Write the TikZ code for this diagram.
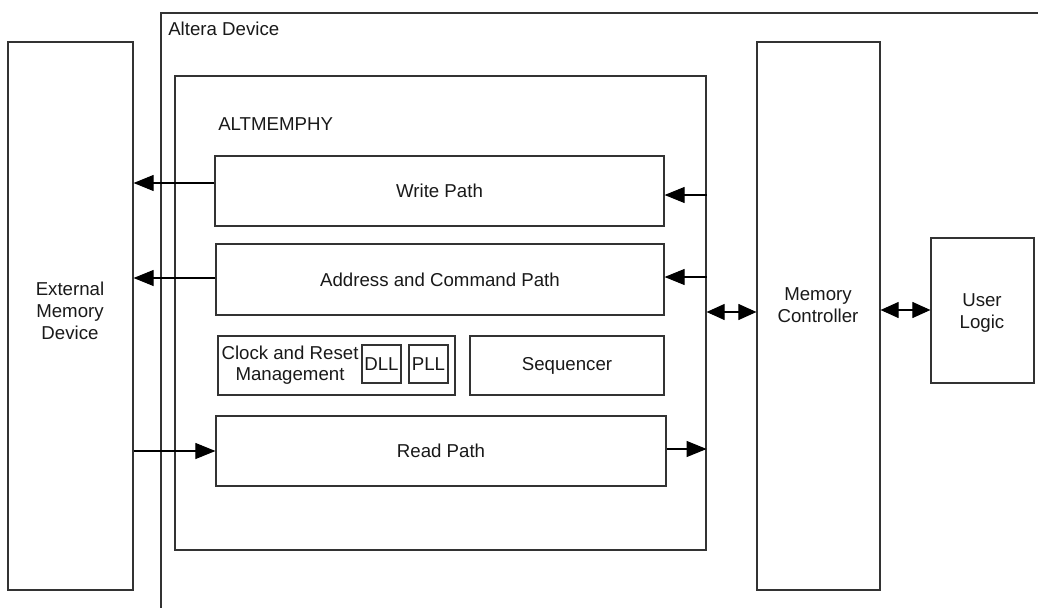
\documentclass[tikz,border=0pt]{standalone}
\usepackage{fontspec}
\setmainfont{Liberation Sans}
\usetikzlibrary{arrows.meta,fit}
\begin{document}
\begin{tikzpicture}[x=0.75pt,y=-0.75pt,
  font=\fontsize{14}{16.5}\selectfont,
  box/.style={draw=black!80,line width=0.9pt,inner sep=0pt},
  txt/.style={inner sep=0pt,align=center,text=black!90},
  arr/.style={draw=black,line width=0.8pt,-{Triangle[length=15pt,width=12pt]}},
  darr/.style={draw=black,line width=0.8pt,{Triangle[length=13.5pt,width=12pt]}-{Triangle[length=13.5pt,width=12pt]}}]
\useasboundingbox (0,0) rectangle (1038,610);
% Altera device border (top and left only)
\coordinate (altTL) at (161,13);
\coordinate (altTR) at (1038,13);
\coordinate (altBL) at (161,608);
\draw[black!80,line width=0.9pt] (altTR) -- (altTL) -- (altBL);
\node[txt,anchor=base west] (altlbl) at (168,36) {Altera Device};
% External memory
\node[box,fit={(8,42) (133,590)}] (ext) {};
\node[txt] (extlbl) at (70,311) {External\\Memory\\Device};
% ALTMEMPHY
\node[box,fit={(175,76) (706,550)}] (phy) {};
\node[txt,anchor=base west] (phylbl) at (218,130) {ALTMEMPHY};
\node[box,fit={(215,156) (664,226)}] (wp) {};
\node[txt] (wplbl) at (wp.center) {Write Path};
\node[box,fit={(216,244) (664,315)}] (ac) {};
\node[txt] (aclbl) at (ac.center) {Address and Command Path};
\node[box,fit={(218,336) (455,395)}] (clk) {};
\node[txt,font=\fontsize{14}{15.5}\selectfont] (clklbl) at (290,365) {Clock and Reset\\Management};
\node[box,fit={(362,345) (401,383)}] (dll) {};
\node[txt] (dlllbl) at (dll.center) {DLL};
\node[box,fit={(409,345) (448,383)}] (pll) {};
\node[txt] (plllbl) at (pll.center) {PLL};
\node[box,fit={(470,336) (664,395)}] (seq) {};
\node[txt] (seqlbl) at (seq.center) {Sequencer};
\node[box,fit={(216,416) (666,486)}] (rp) {};
\node[txt] (rplbl) at (rp.center) {Read Path};
% Memory controller and user logic
\node[box,fit={(757,42) (880,590)}] (mc) {};
\node[txt] (mclbl) at (818,305) {Memory\\Controller};
\node[box,fit={(931,238) (1034,383)}] (ul) {};
\node[txt] (ullbl) at (982,313) {User\\Logic};
% connectors
\draw[arr] (wp.west |- 0,183) -- (ext.east |- 0,183);
\draw[arr] (ac.west |- 0,278) -- (ext.east |- 0,278);
\draw[arr] (ext.east |- 0,451) -- (rp.west |- 0,451);
\draw[arr] (rp.east |- 0,449) -- (phy.east |- 0,449);
\draw[arr] (phy.east |- 0,195) -- (wp.east |- 0,195);
\draw[arr] (phy.east |- 0,277) -- (ac.east |- 0,277);
\draw[darr] (phy.east |- 0,312) -- (mc.west |- 0,312);
\draw[darr] (mc.east |- 0,310) -- (ul.west |- 0,310);
\end{tikzpicture}
\end{document}
